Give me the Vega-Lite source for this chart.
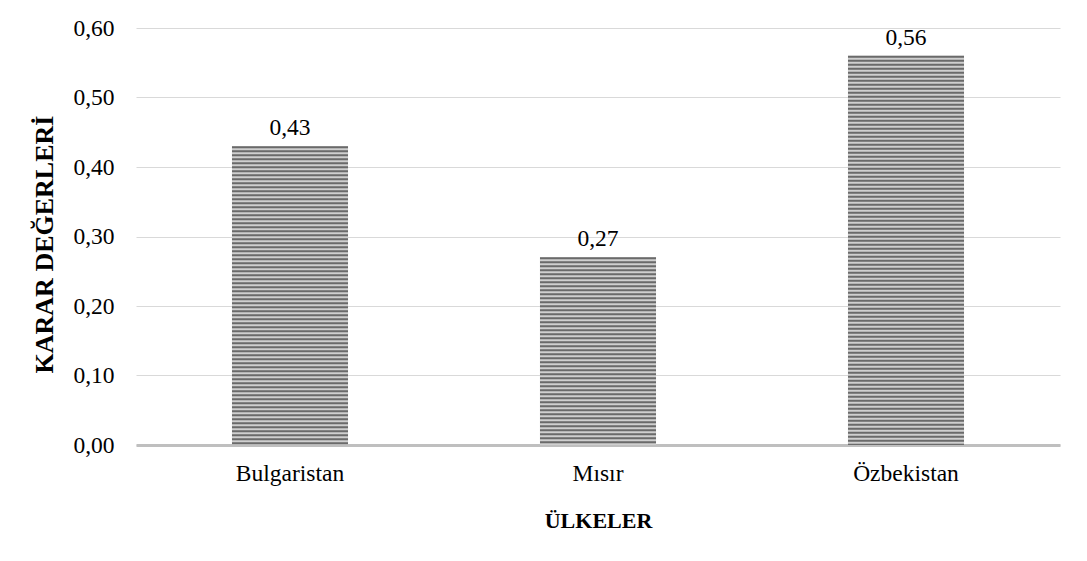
{
  "$schema": "https://vega.github.io/schema/vega-lite/v6.json",
  "width": 924,
  "height": 417,
  "autosize": {"type": "none"},
  "padding": {"left": 136, "top": 28, "right": 27, "bottom": 116},
  "background": "white",
  "config": {
    "locale": {"number": {"decimal": ",", "thousands": ".", "grouping": [3], "currency": ["", " TL"]}},
    "view": {"stroke": null},
    "font": "Liberation Serif, Times New Roman, serif",
    "axis": {
      "labelFont": "Liberation Serif, Times New Roman, serif",
      "titleFont": "Liberation Serif, Times New Roman, serif",
      "labelFontSize": 23.5,
      "titleFontSize": 22,
      "labelColor": "#000000",
      "titleColor": "#000000",
      "titleFontWeight": "bold",
      "ticks": false
    }
  },
  "data": {
    "values": [
      {"ulke": "Bulgaristan", "deger": 0.43},
      {"ulke": "Mısır", "deger": 0.27},
      {"ulke": "Özbekistan", "deger": 0.56}
    ]
  },
  "encoding": {
    "x": {
      "field": "ulke",
      "type": "nominal",
      "sort": null,
      "scale": {"paddingInner": 0.623, "paddingOuter": 0.3115},
      "axis": {
        "title": "ÜLKELER",
        "labelAngle": 0,
        "labelPadding": 16,
        "domainColor": "#bfbfbf",
        "domainWidth": 3,
        "grid": false,
        "titleY": 75,
        "titleBaseline": "middle"
      }
    },
    "y": {
      "field": "deger",
      "type": "quantitative",
      "scale": {"domain": [0, 0.6], "nice": false},
      "axis": {
        "title": "KARAR DEĞERLERİ",
        "titleFontSize": 26,
        "format": ".2f",
        "values": [0, 0.1, 0.2, 0.3, 0.4, 0.5, 0.6],
        "domain": false,
        "gridColor": "#d9d9d9",
        "gridWidth": 1,
        "labelPadding": 22,
        "titleX": -92,
        "titleY": 216,
        "titleBaseline": "middle"
      }
    }
  },
  "layer": [
    {
      "mark": {"type": "bar", "fill": "#cfcfcf"}
    },
    {
      "mark": {"type": "rule", "stroke": "#6a6a6a", "strokeWidth": 116, "strokeDash": [2, 2], "strokeCap": "butt"},
      "encoding": {"y2": {"datum": 0}}
    },
    {
      "mark": {"type": "text", "baseline": "bottom", "dy": -6, "fontSize": 23.5, "font": "Liberation Serif, Times New Roman, serif", "color": "#000000"},
      "encoding": {"text": {"field": "deger", "type": "quantitative", "format": ".2f"}}
    }
  ]
}
